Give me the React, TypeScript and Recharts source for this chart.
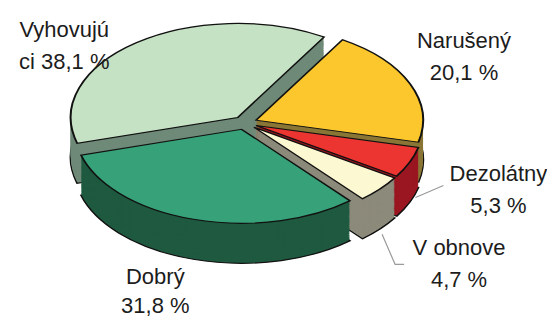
import React from 'react';
import { PieChart, Pie, Cell } from 'recharts';

// slice order runs clockwise from the left edge
const categories = ['Vyhovujúci', 'Narušený', 'Dezolátny', 'V obnove', 'Dobrý'];
const shares = [38.1, 20.1, 5.3, 4.7, 31.8];
const labelFirst = ['Vyhovujú', 'Narušený', 'Dezolátny', 'V obnove', 'Dobrý'];
const labelSecond = ['ci 38,1 %', '20,1 %', '5,3 %', '4,7 %', '31,8 %'];

const topColors = ['#c6e2c4', '#fcc72c', '#ec3430', '#fcf8d2', '#37a179'];
const sideColors = ['#6f8a78', '#8a7636', '#9a1620', '#8c8a7a', '#1f5a40'];

const W = 547;
const H = 319;
const SY = 0.563; // vertical squash for the tilted look
const CX = 240;
const CY = 120 / SY;
const R = 167;
const EXPLODE = 12;
const DEPTH = 40 / SY;
const STEP = 2;
const START = 196;

// label placement, screen px relative to a point just outside each slice
const labelNudge = [[-55, 7], [28, -30], [63, 13], [58, 56], [-30, 50]];
const lineGap = [32, 32, 32, 32, 29];
const leaders: Record<number, number[][]> = {
  2: [[-83, 16], [-55, 4]],
  3: [[-77, -21], [-64, 9], [-55, 9]],
};

const data = categories.map((name, i) => ({ name, value: shares[i] }));
const total = shares.reduce((a, b) => a + b, 0);
const mids: number[] = [];
shares.reduce((acc, v) => {
  mids.push(START - ((acc + v / 2) / total) * 360);
  return acc + v;
}, 0);

const RAD = Math.PI / 180;

function slicePie(i: number, depth: number, key: string, fill: string, outline: boolean) {
  const cx = CX + EXPLODE * Math.cos(mids[i] * RAD);
  const cy = CY - EXPLODE * Math.sin(mids[i] * RAD) + depth;
  return (
    <Pie
      key={key}
      data={data}
      dataKey="value"
      nameKey="name"
      cx={cx}
      cy={cy}
      outerRadius={R}
      startAngle={START}
      endAngle={START - 360}
      isAnimationActive={false}
      labelLine={false}
    >
      {data.map((d, j) => (
        <Cell
          key={d.name}
          fill={j === i ? fill : 'none'}
          stroke={j === i && outline ? '#111' : 'none'}
          strokeWidth={2}
        />
      ))}
    </Pie>
  );
}

const renderLabel = (props: any) => {
  const { cx, cy, midAngle, outerRadius, index } = props;
  const r = outerRadius + 40;
  const x = cx + r * Math.cos(-midAngle * RAD);
  const y = cy + r * Math.sin(-midAngle * RAD);
  const [nx, ny] = labelNudge[index];
  const pts = leaders[index];
  return (
    <g transform={`translate(${x},${y}) scale(1,${1 / SY})`}>
      {pts && (
        <polyline
          points={pts.map(([px, py]) => `${nx + px},${ny + py}`).join(' ')}
          fill="none"
          stroke="#9a9a9a"
          strokeWidth={1.2}
        />
      )}
      <text
        x={nx}
        y={ny}
        textAnchor="middle"
        fill="#1c1c1c"
        style={{ fontFamily: '"Liberation Sans", Arial, sans-serif', fontSize: 22 }}
      >
        <tspan x={nx}>{labelFirst[index]}</tspan>
        <tspan x={nx} dy={lineGap[index]}>{labelSecond[index]}</tspan>
      </text>
    </g>
  );
};

export default function App() {
  const pies: React.ReactNode[] = [];
  categories.forEach((_, i) => {
    for (let d = DEPTH; d > 0; d -= STEP) {
      pies.push(slicePie(i, d, `side-${i}-${d}`, sideColors[i], d === DEPTH));
    }
  });
  categories.forEach((_, i) => {
    pies.push(slicePie(i, 0, `top-${i}`, topColors[i], true));
  });

  return (
    <div style={{ position: 'absolute', left: 0, top: 0, width: W, height: H, overflow: 'hidden', background: '#fff' }}>
      <div style={{ width: W, height: H / SY, transform: `scaleY(${SY})`, transformOrigin: 'top left' }}>
        <PieChart width={W} height={H / SY}>
          {pies}
          <Pie
            data={data}
            dataKey="value"
            nameKey="name"
            cx={CX}
            cy={CY}
            outerRadius={R}
            startAngle={START}
            endAngle={START - 360}
            isAnimationActive={false}
            labelLine={false}
            label={renderLabel}
          >
            {data.map((d) => (
              <Cell key={d.name} fill="none" stroke="none" />
            ))}
          </Pie>
        </PieChart>
      </div>
    </div>
  );
}
